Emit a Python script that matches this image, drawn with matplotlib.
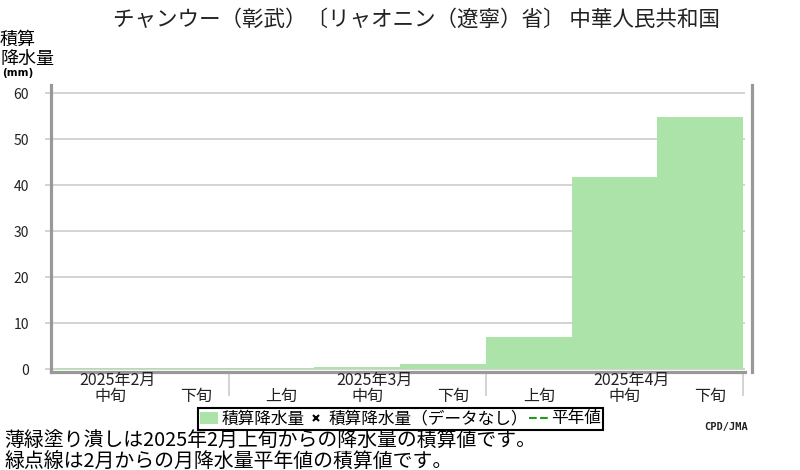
import numpy as np
import matplotlib
matplotlib.use('Agg')
import matplotlib.pyplot as plt
from matplotlib.patches import Patch
from matplotlib.lines import Line2D

plt.rcParams['font.family'] = ['Noto Sans CJK JP', 'DejaVu Sans']

# data: cumulative precipitation per 10-day period (旬), from 2月中旬
jun_labels = ['中旬', '下旬', '上旬', '中旬', '下旬', '上旬', '中旬', '下旬']
month_labels = ['2025年2月', '2025年3月', '2025年4月']
month_pos = [0, 3, 6]          # 旬 index where month label sits (中旬)
month_edges = [2, 5, 8]        # month boundaries
precip_cum = [0.3, 0.3, 0.3, 0.5, 1.2, 7.1, 41.8, 54.8]
yticks = [0, 10, 20, 30, 40, 50, 60]

bar_color = '#abe3a9'
spine_color = '#999999'
grid_color = '#cccccc'

fig = plt.figure(figsize=(8, 4.7), dpi=100)
W, H = 800, 470
ax_left, ax_right, ax_top, ax_bot = 50.5, 745, 85, 371.5
ax = fig.add_axes([ax_left / W, 1 - ax_bot / H, (ax_right - ax_left) / W, (ax_bot - ax_top) / H])

x = np.arange(len(precip_cum))
ax.bar(x, precip_cum, width=1.0, align='edge', color=bar_color, linewidth=0, zorder=2)

ax.set_xlim(-0.076, 8.023)
ax.set_ylim(-0.45, 61.8)

# grid / ticks
ax.set_yticks(yticks)
ax.set_yticklabels([str(v) for v in yticks], fontfamily='DejaVu Sans', fontweight='bold', fontsize=9.5, ha='left')
ax.yaxis.grid(True, color=grid_color, linewidth=1.2, zorder=0)
ax.tick_params(axis='y', length=4.5, width=1.2, color=grid_color, pad=11, labelcolor='#222222')
ax.set_xticks([])
ax.set_xticks(month_edges, minor=True)
ax.tick_params(axis='x', which='minor', length=17, width=1.2, color=grid_color)
ax.set_axisbelow(True)

for s in ['left', 'bottom', 'right']:
    ax.spines[s].set_color(spine_color)
    ax.spines[s].set_linewidth(2.3)
ax.spines['top'].set_visible(False)
ax.spines['right'].set_position(('outward', 5))

# x labels
tr = ax.get_xaxis_transform()
for i, lab in enumerate(jun_labels):
    ax.text(i + 0.62, -0.087, lab, transform=tr, ha='center', va='center', fontsize=11.5, color='#222222')
for p, lab in zip(month_pos, month_labels):
    ax.text(p + 0.7, -0.032, lab, transform=tr, ha='center', va='center', fontsize=11.5, color='#222222')

# title and y label
fig.text(416 / W, 1 - 20 / H, 'チャンウー（彰武）〔リャオニン（遼寧）省〕 中華人民共和国',
         ha='center', va='center', fontsize=15.5, color='#222222')
fig.text(0, 1 - 40 / H, '積算', ha='left', va='center', fontsize=13)
fig.text(0, 1 - 59 / H, '降水量', ha='left', va='center', fontsize=13)
fig.text(2 / W, 1 - 73 / H, '(mm)', ha='left', va='center', fontsize=7.5, fontweight='bold',
         fontfamily='DejaVu Sans')

# legend
handles = [Patch(facecolor=bar_color, edgecolor='none'),
           Line2D([], [], marker='x', color='black', linestyle='none', markersize=5, markeredgewidth=1.5),
           Line2D([], [], color='#229922', linestyle='--', linewidth=1.5)]
labels = ['積算降水量', '積算降水量（データなし）', '平年値']
leg = fig.legend(handles, labels, loc='center', bbox_to_anchor=(400.5 / W, 1 - 419 / H), ncol=3,
                 fontsize=12, frameon=True, fancybox=False, edgecolor='black', framealpha=1,
                 handlelength=1.1, handletextpad=0.2, columnspacing=0.1, borderpad=0.15,
                 borderaxespad=0)
leg.get_frame().set_linewidth(1.5)

fig.text(748 / W, 1 - 427 / H, 'CPD/JMA', ha='right', va='center', fontsize=7.5, fontweight='bold',
         fontfamily='DejaVu Sans Mono', color='#222222')

# notes
fig.text(4 / W, 1 - 441 / H, '薄緑塗り潰しは2025年2月上旬からの降水量の積算値です。',
         ha='left', va='center', fontsize=14.3)
fig.text(4 / W, 1 - 461 / H, '緑点線は2月からの月降水量平年値の積算値です。',
         ha='left', va='center', fontsize=14.3)

fig.savefig('out.png', dpi=100, facecolor='white')
